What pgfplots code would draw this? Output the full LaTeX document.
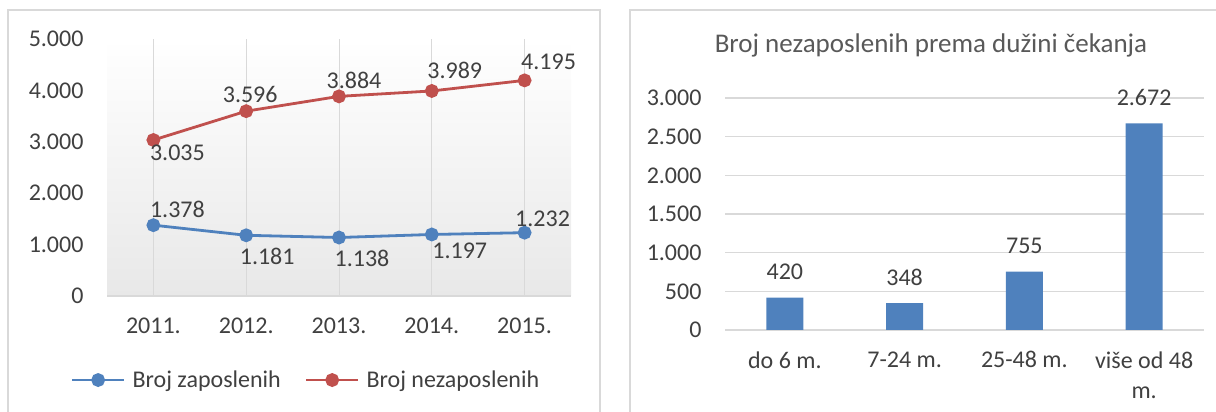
\documentclass[border=0pt]{standalone}
\usepackage{pgfplots}
\pgfplotsset{compat=1.18}
\usepackage{fontspec}
\setmainfont{Carlito}
\definecolor{lblue}{HTML}{4F81BD}
\definecolor{lred}{HTML}{C0504D}
\definecolor{txt}{HTML}{404040}
\definecolor{ttl}{HTML}{595959}
\definecolor{frame}{HTML}{D9D9D9}
\pgfplotsset{
  /pgf/number format/1000 sep={.},
  /pgf/number format/assume math mode=true,
}
\newcommand{\lbl}{\fontsize{24}{30}\selectfont}
\begin{document}
\begin{tikzpicture}
\useasboundingbox (0pt,0pt) rectangle (1216pt,412pt);
\draw[frame, line width=1.5pt] (8pt,-5pt) -- (8pt,402pt) -- (600pt,402pt) -- (600pt,-5pt);
\draw[frame, line width=1.5pt] (630pt,-5pt) -- (630pt,402pt) -- (1225pt,402pt);

\begin{axis}[
  at={(107pt,116pt)}, anchor=south west,
  scale only axis, width=464pt, height=257pt,
  xmin=-0.5, xmax=4.5, ymin=0, ymax=5000,
  xtick={0,...,4}, xticklabels={2011.,2012.,2013.,2014.,2015.},
  ytick={0,1000,...,5000},
  axis x line*=bottom, axis y line*=left,
  x axis line style={frame, line width=1.2pt, -},
  y axis line style={draw=none},
  major tick length=0,
  xmajorgrids, grid style={frame, line width=1pt},
  axis background/.style={top color=white, bottom color=black!9},
  tick label style={font=\lbl, text=txt},
  yticklabel style={xshift=-20pt},
  xticklabel style={yshift=-18pt},
  legend style={at={(axis description cs:-0.085,-0.327)}, anchor=west, draw=none, fill=none,
    font=\lbl, text=txt, legend columns=2,
    /tikz/every odd column/.append style={column sep=5pt},
    /tikz/every even column/.append style={column sep=22pt}},
  legend image code/.code={\draw[mark repeat=2,mark phase=2,#1] plot coordinates {(0pt,0pt) (26pt,0pt) (52pt,0pt)};},
  clip=false,
]
\addplot[lblue, line width=2.8pt, mark=*, mark size=5.5pt,
  nodes near coords,
  visualization depends on={value \thisrow{dx}\as\dx},
  visualization depends on={value \thisrow{dy}\as\dy},
  every node near coord/.append style={anchor=center, xshift=\dx pt, yshift=\dy pt, font=\lbl, text=txt}]
  table[x=x,y=y] {
x y dx dy
0 1378 24 16
1 1181 21 -21
2 1138 23 -21
3 1197 28 -16
4 1232 18 14
};
\addlegendentry{Broj zaposlenih}
\addplot[lred, line width=2.8pt, mark=*, mark size=5.5pt,
  nodes near coords,
  visualization depends on={value \thisrow{dx}\as\dx},
  visualization depends on={value \thisrow{dy}\as\dy},
  every node near coord/.append style={anchor=center, xshift=\dx pt, yshift=\dy pt, font=\lbl, text=txt}]
  table[x=x,y=y] {
x y dx dy
0 3035 24 -13
1 3596 4 17
2 3884 15 16
3 3989 23 21
4 4195 24 19
};
\addlegendentry{Broj nezaposlenih}
\end{axis}

\begin{axis}[
  at={(725pt,82pt)}, anchor=south west,
  scale only axis, width=479pt, height=232pt,
  xmin=-0.5, xmax=3.5, ymin=0, ymax=3000,
  xtick={0,...,3}, xticklabels={do 6 m.,7-24 m.,25-48 m.,više od 48\\m.},
  ytick={0,500,...,3000},
  axis x line*=bottom, axis y line*=left,
  x axis line style={frame, line width=1.2pt, -},
  y axis line style={draw=none},
  major tick length=0,
  ymajorgrids, grid style={frame, line width=1.2pt},
  tick label style={font=\lbl, text=txt},
  yticklabel style={xshift=-20pt},
  xticklabel style={yshift=-18pt, align=center},
  title={Broj nezaposlenih prema dužini čekanja},
  title style={at={(axis description cs:0.43,1.17)}, anchor=base, font=\fontsize{27}{30}\selectfont, text=ttl},
  clip=false,
]
\addplot[ybar, bar width=37pt, fill=lblue, draw=none,
  nodes near coords,
  every node near coord/.append style={anchor=south, yshift=14pt, font=\lbl, text=txt}]
  coordinates {(0,420) (1,348) (2,755) (3,2672)};
\end{axis}
\end{tikzpicture}
\end{document}
